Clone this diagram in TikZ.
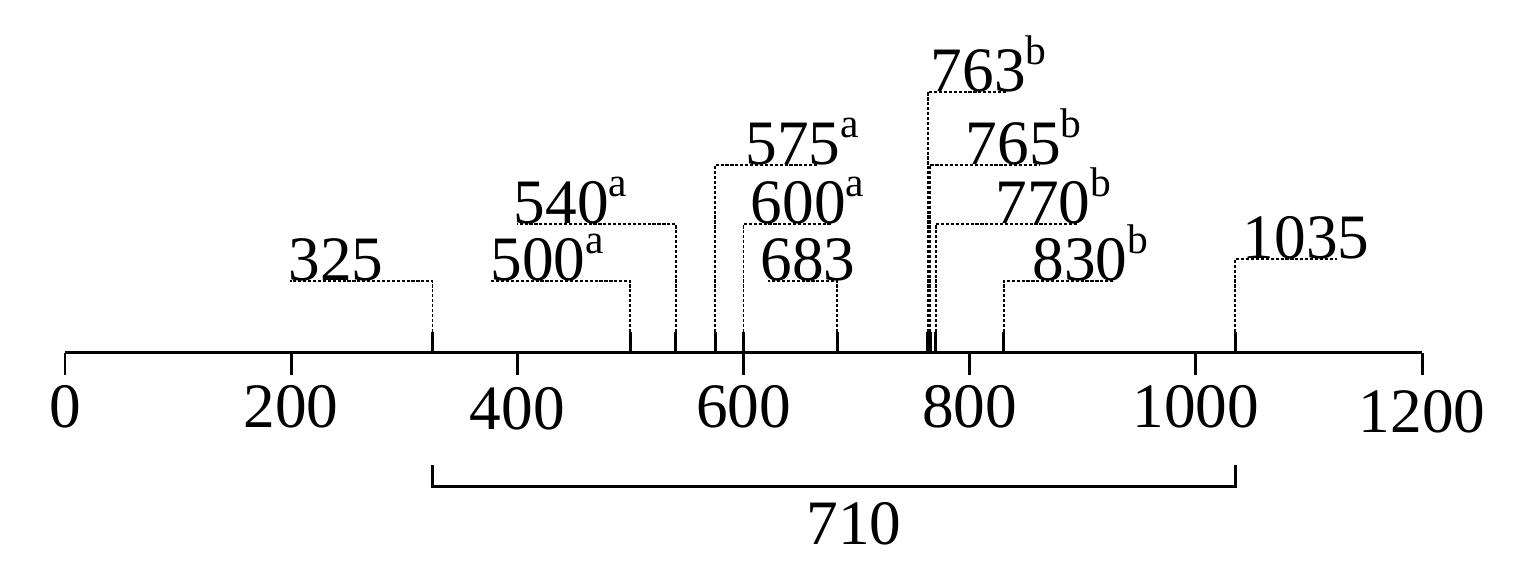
\documentclass[tikz,border=0pt]{standalone}
\usepackage{fontspec}
\setmainfont{Liberation Serif}
\usepackage{tikz}
\usetikzlibrary{calc}

\newcommand{\supmark}[1]{\raisebox{7.8pt}{\fontsize{11.8}{12}\selectfont #1}}

\begin{document}
\begin{tikzpicture}[x=0.011308cm, y=0.01cm,
    font=\fontsize{18}{22}\selectfont,
    axis/.style={line width=0.85pt},
    lead/.style={line width=0.55pt, dash pattern=on 0.9pt off 0.5pt},
    peak/.style={anchor=base west, inner sep=0pt},
    scalelabel/.style={anchor=base, inner sep=0pt}]
  \useasboundingbox (-57.48,-227) rectangle (1290.2,353);

  % scale
  \coordinate (zero) at (0,0);
  \coordinate (end) at (1200,0);
  \draw[axis] (zero) -- (end);
  \foreach \v/\d in {0/75,200/75,400/77,600/75,800/75,1000/75,1200/80}{
    \coordinate (m\v) at (\v,0);
    \node[scalelabel] (s\v) at (\v,-\d) {\v};
    \draw[axis] (m\v) -- ++(0,-22);
  }

  % fragments: value/level/line end/text left/mark
  \foreach \v/\h/\e/\t/\s in {325/72/199/197.2/{},
      500/72/375.8/375.8/a, 540/129/399.7/396.2/a,
      575/188/665/601.3/a, 600/129/678.3/605.8/a,
      683/72/621.7/614.6/{}, 763/261/833/765/b,
      765/188/862.2/795.9/b, 770/129/895/822.4/b,
      830/72/926.8/855.1/b, 1035/94/1124.9/1040.9/{}}{
    \coordinate (a\v) at (\v,0);
    \coordinate (k\v) at (\v,21);
    \coordinate (e\v) at (\e,\h);
    \node[peak] (p\v) at (\t,\h) {\v\supmark{\s}};
    \draw[axis] (a\v) -- (k\v);
    \draw[lead] (k\v) |- (e\v);
  }

  % span
  \coordinate (bl) at (325,-112);
  \coordinate (br) at (1035,-112);
  \coordinate (bb) at (0,-134);
  \draw[axis] (bl) -- (bl |- bb) -- (br |- bb) -- (br);
  \node[scalelabel] (span) at (697.7,-192) {710};
\end{tikzpicture}
\end{document}
